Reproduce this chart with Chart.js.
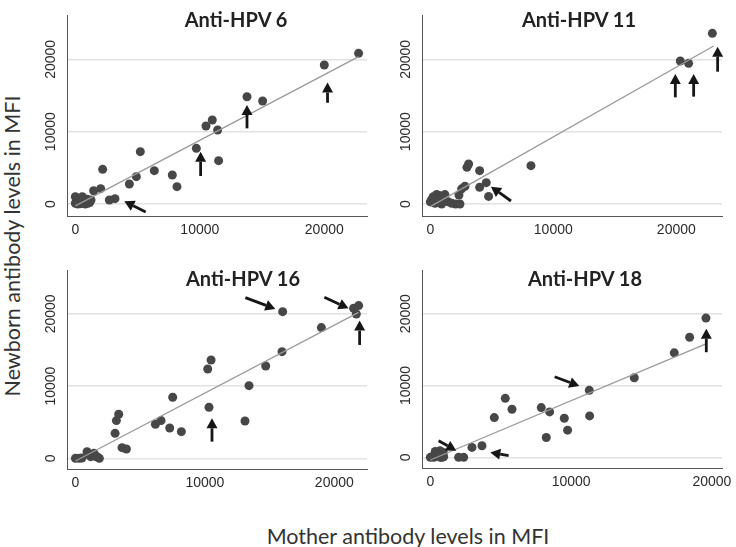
<!DOCTYPE html>
<html>
<head>
<meta charset="utf-8">
<script src="https://cdn.jsdelivr.net/npm/chart.js@4.4.0/dist/chart.umd.min.js"></script>
<style>
  html, body { margin: 0; padding: 0; background: #fff; }
  #wrap { position: relative; width: 736px; height: 547px; overflow: hidden; }
  canvas { position: absolute; }
  .title { position: absolute; font: bold 20px Lato, sans-serif; color: #222; transform: translate(-50%, -50%); white-space: nowrap; }
  .axlab { position: absolute; font: 21.5px Lato, sans-serif; color: #333; white-space: nowrap; transform: translate(-50%, -50%); }
  #ylab { left: 12px; top: 246px; transform: translate(-50%, -50%) rotate(-90deg); }
  #xlab { left: 408px; top: 536px; }
</style>
</head>
<body>
<div id="wrap">
  <canvas id="c6" width="340" height="250" style="left:40px;top:0px"></canvas>
  <canvas id="c11" width="340" height="250" style="left:395px;top:0px"></canvas>
  <canvas id="c16" width="340" height="250" style="left:40px;top:255px"></canvas>
  <canvas id="c18" width="340" height="250" style="left:395px;top:255px"></canvas>
  <div class="title" style="left:236px;top:19px">Anti-HPV 6</div>
  <div class="title" style="left:579px;top:19px">Anti-HPV 11</div>
  <div class="title" style="left:243px;top:278px">Anti-HPV 16</div>
  <div class="title" style="left:585px;top:278px">Anti-HPV 18</div>
  <div class="axlab" id="ylab">Newborn antibody levels in MFI</div>
  <div class="axlab" id="xlab">Mother antibody levels in MFI</div>
</div>
<script>
// tick values shared by every panel
const tickValues = [0, 10000, 20000];

// Anti-HPV 6
const hpv6Mother  = [0, 80, 350, 560, 720, 940, 1150, 1260, 200, 450, 800, 1000, 0, 600,
  1470, 2035, 2195, 2730, 3185, 4340, 4900, 5220, 6345, 7790, 8165, 9720, 10495, 11000, 11430, 11510, 13790, 15045, 20000, 22755];
const hpv6Newborn = [1000, 300, 650, 1000, 300, 650, 200, 550, 0, 50, 0, 100, 100, 400,
  1840, 2120, 4795, 550, 740, 2770, 3780, 7240, 4610, 4010, 2400, 7700, 10790, 11620, 10230, 5990, 14840, 14245, 19220, 20840];
const hpv6FitX = [0, 22755];
const hpv6FitY = [-260, 20380];
const hpv6Arrows = [[20260, 14000, 20260, 16800], [13790, 10460, 13790, 13690], [10065, 3870, 10065, 7240], [5650, -1100, 3935, 370]];

// Anti-HPV 11
const hpv11Mother  = [0, 240, 520, 790, 1060, 380, 650, 920, 1460, 1730, 2060, 2410, 1190, 100, 500, 300, 700, 1000,
  2330, 2550, 2820, 2980, 3115, 4010, 4010, 4550, 4740, 8185, 20325, 21000, 22930];
const hpv11Newborn = [300, 1000, 1330, 1150, 780, 100, 550, 0, 300, 100, 0, 0, 1300, 600, 200, 800, 900, 300,
  1250, 2100, 2450, 5070, 5530, 4610, 2300, 2950, 1050, 5300, 19780, 19450, 23600];
const hpv11FitX = [0, 23035];
const hpv11FitY = [-370, 21850];
const hpv11Arrows = [[19920, 14750, 19920, 17980], [21410, 14850, 21410, 17980], [23360, 18300, 23360, 21760], [6560, 415, 4930, 2400]];

// Anti-HPV 16
const hpv16Mother  = [0, 300, 500, 900, 1100, 1180, 1415, 1440, 1570, 1670, 1850,
  3065, 3165, 3345, 3600, 3940, 6180, 6615, 7285, 7515, 8185, 10220, 10320, 10480, 13100, 13410, 14700, 15960, 16010, 19000, 21490, 21700, 21880];
const hpv16Newborn = [0, 0, 50, 920, 460, 230, 460, 690, 230, 230, 0,
  3460, 5220, 6095, 1480, 1290, 4710, 5220, 4200, 8450, 3690, 12375, 7065, 13620, 5170, 10065, 12790, 14775, 20315, 18100, 20775, 19990, 21150];
const hpv16FitX = [0, 21880];
const hpv16FitY = [-370, 20220];
const hpv16Arrows = [[13130, 22250, 15445, 20685], [19230, 22300, 21100, 20775], [21955, 15700, 21955, 19070], [10550, 2310, 10550, 5540]];

// Anti-HPV 18
const hpv18Mother  = [0, 150, 350, 450, 660, 690, 710, 830, 925, 945, 250, 550,
  2010, 2370, 2960, 3670, 4545, 5325, 5800, 7880, 8235, 8475, 9515, 9750, 11290, 11315, 14485, 17325, 18415, 19575];
const hpv18Newborn = [0, 100, 830, 460, 460, 920, 0, 0, 690, 90, 0, 250,
  0, 0, 1385, 1615, 5540, 8220, 6695, 6925, 2770, 6325, 5450, 3785, 9325, 5770, 11080, 14545, 16715, 19390];
const hpv18FitX = [0, 19575];
const hpv18FitY = [-370, 15790];
const hpv18Arrows = [[19600, 14635, 19600, 17910], [8830, 11220, 10580, 9925], [590, 2310, 1845, 925], [5560, 230, 4260, 690]];

const tickFont = '14px "Liberation Sans", Arial, sans-serif';

const extras = {
  id: 'extras',
  afterDatasetsDraw(chart, args, opts) {
    const ctx = chart.ctx, xs = chart.scales.x, ys = chart.scales.y;
    ctx.save();
    ctx.fillStyle = ctx.strokeStyle = '#161616';
    opts.arrows.forEach(a => {
      const x0 = xs.getPixelForValue(a[0]), y0 = ys.getPixelForValue(a[1]);
      const x1 = xs.getPixelForValue(a[2]), y1 = ys.getPixelForValue(a[3]);
      const ang = Math.atan2(y1 - y0, x1 - x0), head = 10, half = 5.5;
      const bx = x1 - head * Math.cos(ang), by = y1 - head * Math.sin(ang);
      ctx.lineWidth = 2.8;
      ctx.beginPath(); ctx.moveTo(x0, y0); ctx.lineTo(bx, by); ctx.stroke();
      ctx.beginPath(); ctx.moveTo(x1, y1);
      ctx.lineTo(bx + half * Math.sin(ang), by - half * Math.cos(ang));
      ctx.lineTo(bx - half * Math.sin(ang), by + half * Math.cos(ang));
      ctx.closePath(); ctx.fill();
    });
    ctx.restore();
  },
  afterDraw(chart) {
    const ctx = chart.ctx, xs = chart.scales.x, ys = chart.scales.y;
    ctx.save();
    ctx.fillStyle = '#2b2b2b';
    ctx.font = tickFont;
    ctx.textAlign = 'center';
    ctx.textBaseline = 'middle';
    // x tick labels
    tickValues.forEach(v => {
      ctx.fillText(String(v), xs.getPixelForValue(v), chart.chartArea.bottom + 14);
    });
    // vertical tick labels on the y axis
    tickValues.forEach(v => {
      ctx.save();
      ctx.translate(chart.chartArea.left - 16, ys.getPixelForValue(v));
      ctx.rotate(-Math.PI / 2);
      ctx.fillText(String(v), 0, 0);
      ctx.restore();
    });
    ctx.restore();
  }
};

function makePanel(id, mother, newborn, fitX, fitY, arrows, xMin, xMax, yMin, yMax, xAxisHeight) {
  const ctx = document.getElementById(id).getContext('2d');
  return new Chart(ctx, {
    type: 'scatter',
    data: {
      datasets: [
        {
          data: fitX.map((x, i) => ({ x: x, y: fitY[i] })),
          showLine: true,
          borderColor: '#9a9a9a',
          borderWidth: 1.3,
          pointRadius: 0
        },
        {
          data: mother.map((x, i) => ({ x: x, y: newborn[i] })),
          backgroundColor: '#474747',
          borderWidth: 0,
          pointRadius: 4.5
        }
      ]
    },
    options: {
      responsive: false,
      animation: false,
      layout: { padding: { top: 15, right: 13, left: 0, bottom: 0 } },
      plugins: {
        legend: { display: false },
        tooltip: { enabled: false },
        extras: { arrows: arrows }
      },
      scales: {
        x: {
          type: 'linear',
          min: xMin, max: xMax,
          afterBuildTicks: s => { s.ticks = tickValues.map(v => ({ value: v })); },
          afterFit: s => { s.height = xAxisHeight; },
          grid: { display: false, drawTicks: false },
          border: { display: true, color: '#555', width: 1 },
          ticks: { display: false }
        },
        y: {
          type: 'linear',
          min: yMin, max: yMax,
          afterBuildTicks: s => { s.ticks = tickValues.map(v => ({ value: v })); },
          afterFit: s => { s.width = 27; },
          grid: { color: '#e2e2e2', lineWidth: 1.5, drawTicks: false },
          border: { display: true, color: '#555', width: 1 },
          ticks: { display: false }
        }
      }
    },
    plugins: [extras]
  });
}

makePanel('c6', hpv6Mother, hpv6Newborn, hpv6FitX, hpv6FitY, hpv6Arrows, -670, 23430, -1660, 26140, 34);
makePanel('c11', hpv11Mother, hpv11Newborn, hpv11FitX, hpv11FitY, hpv11Arrows, -675, 23715, -1660, 26140, 34);
makePanel('c16', hpv16Mother, hpv16Newborn, hpv16FitX, hpv16FitY, hpv16Arrows, -650, 22525, -1480, 26080, 36);
makePanel('c18', hpv18Mother, hpv18Newborn, hpv18FitX, hpv18FitY, hpv18Arrows, -590, 20715, -1480, 26080, 37);
</script>
</body>
</html>
